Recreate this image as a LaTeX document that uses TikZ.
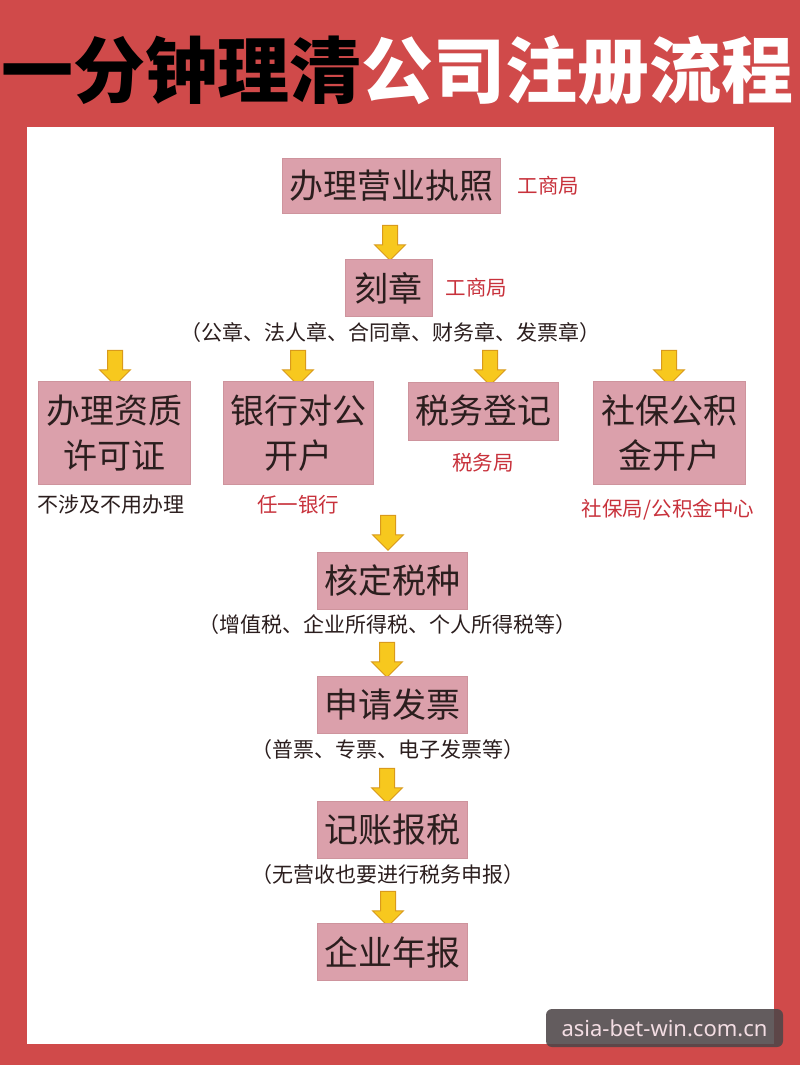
\documentclass[tikz,border=0pt]{standalone}
\usepackage{fontspec}
\setmainfont{Noto Sans CJK SC}
\newfontfamily\latinfont{Noto Sans}
\usetikzlibrary{shapes.arrows, positioning}
\usepackage{xcolor}

\definecolor{bgred}{HTML}{D04A4A}
\definecolor{boxpink}{HTML}{DBA0AB}
\definecolor{boxline}{HTML}{CE949D}
\definecolor{notered}{HTML}{C8323C}
\definecolor{arrowfill}{HTML}{F7C81E}
\definecolor{arrowline}{HTML}{D99A1C}
\definecolor{inkdark}{HTML}{2B1E1E}
\definecolor{wmgray}{HTML}{4E4648}
\definecolor{wmtext}{HTML}{F3DDE3}

\tikzset{
  stepbox/.style 2 args={fill=boxpink, draw=boxline, line width=1pt, text=inkdark,
    font=\fontsize{34}{45}\selectfont, align=center, inner sep=0pt,
    minimum width=#1pt, minimum height=#2pt},
  note/.style={text=notered, font=\fontsize{20.5}{24}\selectfont, inner sep=0pt},
  remark/.style={text=inkdark, font=\fontsize{21}{24}\selectfont, inner sep=0pt},
  downarr/.style={single arrow, shape border rotate=270, fill=arrowfill, draw=arrowline,
    line width=1pt, inner sep=7pt, minimum height=35pt,
    single arrow head extend=8pt, single arrow head indent=0pt}
}

\begin{document}
\begin{tikzpicture}[x=1pt, y=-1pt]
\useasboundingbox (0,0) rectangle (800,1065);
\fill[bgred] (0,0) rectangle (800,1065);
\fill[white] (27,127) rectangle (774,1044);

% title
\node[anchor=west, inner sep=0pt, font=\fontsize{72}{72}\selectfont\bfseries] (title) at (1,70)
  {一分钟理清\textcolor{white}{公司注册流程}};

% step 1 and 2
\node[stepbox={218}{55}] (lic) at (391,186) {办理营业执照};
\node[note, right=17pt of lic] (lic-office) {工商局};
\node[downarr] (arr1) at (390,239) {};
\node[stepbox={87}{57}] (seal) at (388.5,288) {刻章};
\node[note, right=13pt of seal] (seal-office) {工商局};
\node[remark] (seal-kinds) at (390,333) {（公章、法人章、合同章、财务章、发票章）};

% four parallel steps
\node[downarr] (arr2a) at (115,364) {};
\node[downarr] (arr2b) at (298,364) {};
\node[downarr] (arr2c) at (490,364) {};
\node[downarr] (arr2d) at (669,364) {};
\node[stepbox={152}{103}] (permit) at (114,433) {办理资质\\许可证};
\node[stepbox={150}{103}] (bank) at (298,433) {银行对公\\开户};
\node[stepbox={150}{58}] (taxreg) at (483,411) {税务登记};
\node[stepbox={152}{103}] (social) at (669,433) {社保公积\\金开户};
\node[remark] (permit-note) at (111,505) {不涉及不用办理};
\node[note] (bank-note) at (298,505) {任一银行};
\node[note] (taxreg-note) at (483,463) {税务局};
\node[note] (social-note) at (668,510) {社保局/公积金中心};

% main line
\node[downarr] (arr3) at (388,529) {};
\node[stepbox={150}{57}] (taxtype) at (392,581) {核定税种};
\node[remark] (taxtype-kinds) at (387,625) {（增值税、企业所得税、个人所得税等）};
\node[downarr] (arr4) at (387,656) {};
\node[stepbox={150}{57}] (invoice) at (392,705) {申请发票};
\node[remark] (invoice-kinds) at (388,750) {（普票、专票、电子发票等）};
\node[downarr] (arr5) at (387,782) {};
\node[stepbox={150}{57}] (books) at (392,830) {记账报税};
\node[remark] (books-note) at (388,875) {（无营收也要进行税务申报）};
\node[downarr] (arr6) at (388,905) {};
\node[stepbox={150}{57}] (annual) at (392,952) {企业年报};

% watermark
\node[fill=wmgray, fill opacity=0.88, text opacity=1, rounded corners=6pt,
  minimum width=237pt, minimum height=38pt, text=wmtext,
  font=\latinfont\fontsize{22}{24}\selectfont] (mark) at (664.5,1028) {asia-bet-win.com.cn};
\end{tikzpicture}
\end{document}
